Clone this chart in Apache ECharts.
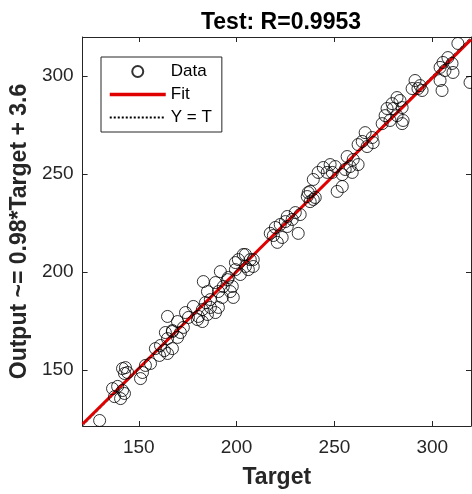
<!DOCTYPE html>
<html>
<head>
<meta charset="utf-8">
<script src="https://cdn.jsdelivr.net/npm/echarts@6/dist/echarts.min.js"></script>
<style>
  html, body { margin: 0; padding: 0; background: #fff; }
  #chart { width: 472px; height: 494px; }
</style>
</head>
<body>
<div id="chart"></div>
<script>
// test set: target values and network output
const targets = [
  130.0, 136.6, 139.2, 141.7, 137.6, 140.7, 142.7, 141.7, 143.2, 144.3,
  142.7, 150.9, 151.9, 153.4, 156.0, 158.5, 161.1, 163.1, 160.6, 164.7,
  167.2, 163.6, 167.2, 169.8, 164.7, 204.5, 208.5, 199.4, 206.0, 191.7,
  195.8, 183.0, 189.2, 185.1, 190.7, 196.8, 186.6, 192.7, 198.3, 184.1,
  177.9, 182.5, 186.6, 190.7, 180.5, 185.1, 189.2, 173.9, 175.4, 180.0,
  182.5, 164.7, 169.8, 172.8, 167.2, 171.3, 236.6, 240.2, 237.6, 232.5,
  228.4, 224.9, 222.3, 225.9, 219.8, 231.5, 218.8, 223.3, 220.8, 217.2,
  203.4, 200.9, 207.0, 204.5, 208.5, 199.4, 201.9, 195.3, 197.8, 193.2,
  265.7, 269.3, 264.2, 269.8, 262.1, 266.7, 256.5, 259.6, 258.0, 255.5,
  259.1, 262.1, 247.8, 250.4, 244.3, 246.3, 241.7, 248.9, 254.0, 239.2,
  237.6, 236.1, 239.2, 251.4, 254.0, 225.9, 230.0, 313.1, 308.0, 305.5,
  310.1, 304.0, 306.5, 310.6, 304.0, 305.0, 319.3, 291.2, 293.8, 289.7,
  292.7, 294.8, 282.0, 283.5, 279.5, 276.9, 280.0, 284.6, 282.0, 275.9,
  278.4, 284.6, 285.1, 274.4
];
const outputs = [
  124.1, 140.4, 141.5, 139.4, 136.3, 135.3, 137.9, 150.6, 151.1, 148.6,
  148.1, 145.5, 148.6, 152.2, 153.2, 160.8, 162.4, 159.8, 157.3, 158.3,
  160.8, 169.0, 170.0, 166.5, 165.9, 208.8, 206.2, 204.7, 201.1, 200.1,
  197.1, 195.0, 194.5, 189.9, 189.9, 189.9, 185.8, 186.9, 186.9, 184.3,
  182.3, 180.7, 181.8, 181.8, 177.2, 178.2, 179.2, 179.2, 176.7, 175.6,
  174.6, 177.2, 174.6, 171.6, 169.5, 169.0, 240.4, 237.9, 235.8, 229.2,
  226.7, 225.6, 224.1, 223.1, 222.6, 219.6, 218.5, 217.5, 215.0, 219.6,
  208.8, 206.2, 206.2, 202.7, 202.7, 201.1, 198.6, 196.0, 192.5, 192.5,
  271.0, 268.5, 266.5, 265.9, 264.9, 263.9, 258.8, 257.3, 253.7, 252.2,
  250.7, 254.7, 254.7, 253.7, 253.2, 250.7, 250.7, 250.7, 249.6, 247.1,
  241.0, 238.4, 236.9, 241.0, 243.5, 228.2, 230.2, 316.5, 309.3, 306.8,
  306.3, 304.3, 302.7, 301.7, 297.6, 292.5, 296.6, 297.6, 295.0, 293.5,
  293.5, 292.5, 288.9, 287.4, 285.8, 283.3, 283.3, 283.8, 279.7, 279.7,
  277.2, 275.6, 277.2, 275.6
];
// fitted line and Y = T reference, end points
const fitLine = [[121.3, 122.3], [319.8, 318.5]];
const identityLine = [[121.3, 121.3], [319.8, 319.8]];
const ticks = [150, 200, 250, 300];
const axisMin = 121.3;
const axisMax = 319.8;

const font = 'Arial, "Liberation Sans", sans-serif';
const ink = '#262626';

const scatterData = targets.map((t, i) => [t, outputs[i]]);

function makeAxis(position, showLabel, name) {
  return {
    type: 'value',
    position: position,
    min: axisMin,
    max: axisMax,
    name: name || '',
    nameLocation: 'middle',
    nameTextStyle: { fontFamily: font, fontSize: 23, fontWeight: 'bold', color: ink },
    axisLine: { show: true, onZero: false, lineStyle: { color: ink, width: 1 } },
    axisTick: { show: true, inside: true, length: 5, customValues: ticks, lineStyle: { color: ink } },
    axisLabel: {
      show: showLabel, customValues: ticks, fontFamily: font, fontSize: 19, color: ink
    },
    splitLine: { show: false }
  };
}

const chart = echarts.init(document.getElementById('chart'), null, { renderer: 'canvas' });

const xMain = makeAxis('bottom', true, 'Target');
xMain.nameGap = 40;
xMain.axisLabel.margin = 12;
const yMain = makeAxis('left', true, 'Output ~= 0.98*Target + 3.6');
yMain.nameGap = 46;
yMain.axisLabel.margin = 9;

// no marker on the line entries of the legend
const hiddenMarker = { color: 'transparent', borderColor: 'transparent', borderWidth: 0 };

const option = {
  animation: false,
  backgroundColor: '#fff',
  title: {
    text: 'Test: R=0.9953',
    left: 276,
    top: 6,
    textAlign: 'center',
    textStyle: { fontFamily: font, fontSize: 23, fontWeight: 'bold', color: '#000' }
  },
  grid: { left: 82, top: 37, width: 389, height: 389, containLabel: false },
  legend: {
    orient: 'vertical',
    left: 101,
    top: 57,
    padding: [6, 10, 6, 7],
    itemGap: 6,
    itemWidth: 56,
    itemHeight: 11,
    borderColor: ink,
    borderWidth: 1,
    backgroundColor: '#fff',
    textStyle: { fontFamily: font, fontSize: 17, lineHeight: 17, color: '#000' },
    data: [
      'Data',
      { name: 'Fit', itemStyle: hiddenMarker, lineStyle: { width: 3.5, color: '#e00000' } },
      { name: 'Y = T', itemStyle: hiddenMarker }
    ]
  },
  xAxis: [xMain, makeAxis('top', false)],
  yAxis: [yMain, makeAxis('right', false)],
  series: [
    {
      name: 'Y = T',
      type: 'line',
      data: identityLine,
      symbol: 'none',
      z: 2,
      itemStyle: hiddenMarker,
      lineStyle: { color: '#000', width: 1, type: 'dotted' }
    },
    {
      name: 'Fit',
      type: 'line',
      data: fitLine,
      symbol: 'none',
      z: 3,
      itemStyle: hiddenMarker,
      lineStyle: { color: '#e00000', width: 3 }
    },
    {
      name: 'Data',
      type: 'scatter',
      data: scatterData,
      symbol: 'circle',
      symbolSize: 12,
      z: 4,
      itemStyle: { color: 'transparent', borderColor: '#000', borderWidth: 1 }
    }
  ]
};

chart.setOption(option);
</script>
</body>
</html>
